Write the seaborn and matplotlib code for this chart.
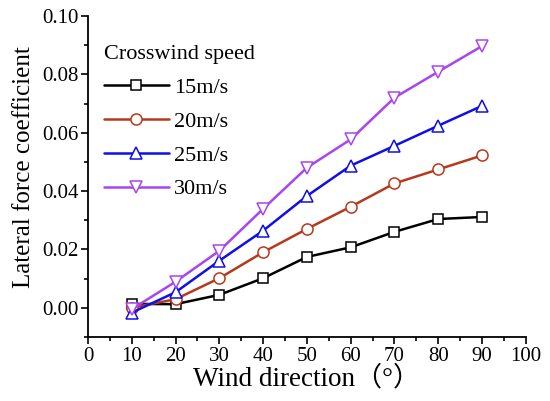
import numpy as np
import pandas as pd
import matplotlib
matplotlib.use("Agg")
import matplotlib.pyplot as plt
from matplotlib.ticker import MultipleLocator, FormatStrFormatter
import seaborn as sns

# ---- data ----
wind_direction = [10, 20, 30, 40, 50, 60, 70, 80, 90]
speeds = ["15m/s", "20m/s", "25m/s", "30m/s"]
cf_15 = [0.0013, 0.0012, 0.0044, 0.0101, 0.0174, 0.0207, 0.0260, 0.0304, 0.0311]
cf_20 = [0.0000, 0.0029, 0.0101, 0.0190, 0.0270, 0.0346, 0.0426, 0.0474, 0.0522]
cf_25 = [-0.0017, 0.0053, 0.0161, 0.0264, 0.0383, 0.0487, 0.0555, 0.0624, 0.0692]
cf_30 = [-0.0005, 0.0089, 0.0195, 0.0339, 0.0480, 0.0577, 0.0720, 0.0809, 0.0897]
x_ticks = [0, 10, 20, 30, 40, 50, 60, 70, 80, 90, 100]
y_ticks = [0.00, 0.02, 0.04, 0.06, 0.08, 0.10]

colors = ["#000000", "#B5391C", "#0F0FE6", "#A845F0"]
markers = ["s", "o", "^", "v"]
marker_sizes = [6.5, 8, 8.5, 8.5]

rows = []
for sp, vals in zip(speeds, [cf_15, cf_20, cf_25, cf_30]):
    for xd, v in zip(wind_direction, vals):
        rows.append({"dir": xd, "cf": v, "speed": sp})
df = pd.DataFrame(rows)

sns.set_theme(style="ticks")
plt.rcParams["font.family"] = ["Liberation Serif", "Noto Sans CJK SC", "DejaVu Sans"]
plt.rcParams["text.color"] = "black"
plt.rcParams["axes.labelcolor"] = "black"
plt.rcParams["xtick.color"] = "black"
plt.rcParams["ytick.color"] = "black"

fig = plt.figure(figsize=(5.5, 4.01), dpi=100)
ax = fig.add_axes([0.160, 0.160, 0.796, 0.800])

sns.lineplot(data=df, x="dir", y="cf", hue="speed", style="speed",
             hue_order=speeds, style_order=speeds,
             palette=colors, markers=markers, dashes=False,
             errorbar=None, legend=False, ax=ax,
             linewidth=1.8, markersize=8, markeredgewidth=1.1)

for line, ms in zip(ax.lines, marker_sizes):
    c = line.get_color()
    line.set_markeredgecolor(c)
    line.set_markerfacecolor("white")
    line.set_markersize(ms)

ax.set_xlim(0, 100)
ax.set_ylim(-0.01, 0.10)
ax.set_xticks(x_ticks)
ax.set_yticks(y_ticks)
ax.xaxis.set_minor_locator(MultipleLocator(5))
ax.yaxis.set_minor_locator(MultipleLocator(0.01))
ax.yaxis.set_major_formatter(FormatStrFormatter("%.2f"))
ax.tick_params(axis="both", which="major", direction="out", length=5, width=1.2,
               labelsize=15, pad=2)
ax.tick_params(axis="both", which="minor", direction="out", length=3, width=1.2)
for s in ["top", "right"]:
    ax.spines[s].set_visible(False)
for s in ["left", "bottom"]:
    ax.spines[s].set_linewidth(1.3)
    ax.spines[s].set_color("black")

ax.set_xlabel("Wind direction（°）", fontsize=19.5, labelpad=0)
ax.set_ylabel("Lateral force coefficient", fontsize=18, labelpad=4)
ax.yaxis.set_label_coords(-0.122, 0.53)

leg = ax.legend(handles=list(ax.lines), labels=speeds, title="Crosswind speed",
                loc="upper left", bbox_to_anchor=(0.037, 0.91), frameon=False,
                fontsize=16, title_fontsize=16, handlelength=2.9,
                handletextpad=0.25, labelspacing=0.6, borderaxespad=0,
                borderpad=0, alignment="left")

fig.savefig("out.png", dpi=100)
